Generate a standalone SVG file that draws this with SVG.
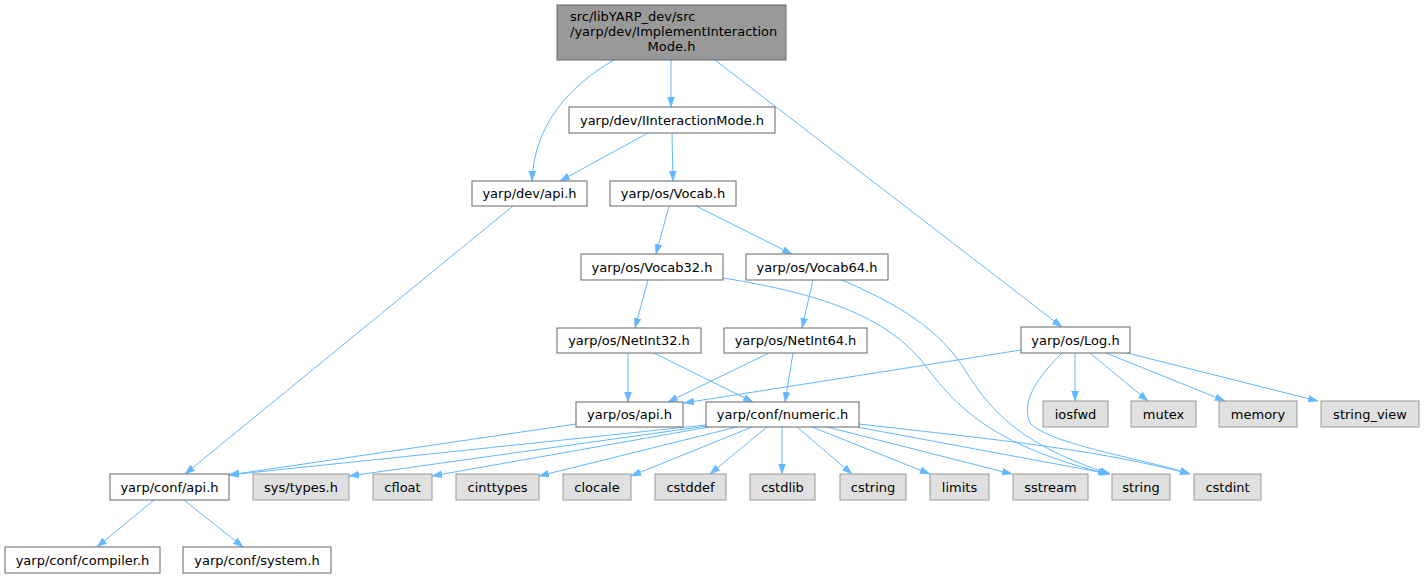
<svg xmlns="http://www.w3.org/2000/svg" width="1425" height="579" viewBox="0 0 1425 579">
<style>
.w{fill:#ffffff;stroke:#666666;stroke-width:1}
.g{fill:#e0e0e0;stroke:#999999;stroke-width:1}
.r{fill:#999999;stroke:#666666;stroke-width:1}
text{font-family:"DejaVu Sans",sans-serif;font-size:13px;fill:#000000;text-anchor:middle}
.e path{fill:none;stroke:#63b8ff;stroke-width:1;marker-end:url(#a)}
</style>
<defs>
<marker id="a" markerWidth="11" markerHeight="8" refX="10" refY="4" orient="auto" markerUnits="userSpaceOnUse">
<path d="M0,0.5 L10,4 L0,7.5 Z" fill="#63b8ff" stroke="#63b8ff" stroke-width="0.5"/>
</marker>
</defs>
<rect width="1425" height="579" fill="#ffffff"/>
<g id="edges" class="e">
<path d="M614,60 C570,85 534,125 532,181"/>
<path d="M671,60 L671,107"/>
<path d="M715,60 L1062,327"/>
<path d="M648,133 L560,181"/>
<path d="M672,133 L673,181"/>
<path d="M513,206 L185,474"/>
<path d="M669,206 L656,254"/>
<path d="M696,206 L792,254"/>
<path d="M648,280 L635,328"/>
<path d="M723,278 C830,295 890,320 925,365 C955,405 990,445 1108,474"/>
<path d="M813,280 L802,328"/>
<path d="M842,280 C900,305 940,330 965,370 C990,410 1020,445 1110,474"/>
<path d="M628,353 L628,402"/>
<path d="M654,353 L753,402"/>
<path d="M769,353 L668,402"/>
<path d="M793,353 L785,402"/>
<path d="M1021,350 L684,403"/>
<path d="M1075,353 L1075,401"/>
<path d="M1090,353 L1148,401"/>
<path d="M1106,353 L1225,401"/>
<path d="M1123,352 L1318,401"/>
<path d="M1062,353 C1040,375 1020,400 1030,423 C1050,445 1150,460 1190,474"/>
<path d="M576,424 L229,475"/>
<path d="M706,425 L229,475"/>
<path d="M707,426 L349,476"/>
<path d="M709,427 L432,476"/>
<path d="M737,427 L539,476"/>
<path d="M752,427 L631,476"/>
<path d="M767,427 L710,474"/>
<path d="M782,427 L782,474"/>
<path d="M797,427 L852,474"/>
<path d="M812,427 L930,474"/>
<path d="M827,427 L1012,474"/>
<path d="M857,427 L1110,474"/>
<path d="M859,424 C1000,440 1100,450 1190,474"/>
<path d="M154,500 L97,547"/>
<path d="M184,500 L243,547"/>
</g>
<g id="root"><rect class="r" x="557" y="5" width="229" height="55"/>
<text x="570" y="21" style="text-anchor:start">src/libYARP_dev/src</text>
<text x="570" y="36" style="text-anchor:start">/yarp/dev/ImplementInteraction</text>
<text x="671.5" y="51">Mode.h</text></g>
<g id="iim"><rect class="w" x="569" y="107" width="206" height="26"/><text x="672" y="125">yarp/dev/IInteractionMode.h</text></g>
<g id="devapi"><rect class="w" x="472" y="181" width="115" height="25"/><text x="529.5" y="198">yarp/dev/api.h</text></g>
<g id="vocab"><rect class="w" x="610" y="181" width="126" height="25"/><text x="673" y="198">yarp/os/Vocab.h</text></g>
<g id="vocab32"><rect class="w" x="581" y="254" width="142" height="26"/><text x="652" y="272">yarp/os/Vocab32.h</text></g>
<g id="vocab64"><rect class="w" x="746" y="254" width="142" height="26"/><text x="817" y="272">yarp/os/Vocab64.h</text></g>
<g id="netint32"><rect class="w" x="557" y="328" width="144" height="25"/><text x="629" y="345">yarp/os/NetInt32.h</text></g>
<g id="netint64"><rect class="w" x="724" y="328" width="143" height="25"/><text x="795.5" y="345">yarp/os/NetInt64.h</text></g>
<g id="osapi"><rect class="w" x="576" y="402" width="107" height="25"/><text x="629.5" y="419">yarp/os/api.h</text></g>
<g id="numeric"><rect class="w" x="706" y="402" width="153" height="25"/><text x="782.5" y="419">yarp/conf/numeric.h</text></g>
<g id="log"><rect class="w" x="1021" y="327" width="109" height="26"/><text x="1075.5" y="345">yarp/os/Log.h</text></g>
<g id="iosfwd"><rect class="g" x="1043" y="401" width="65" height="26"/><text x="1075.5" y="419">iosfwd</text></g>
<g id="mutex"><rect class="g" x="1131" y="401" width="65" height="26"/><text x="1163.5" y="419">mutex</text></g>
<g id="memory"><rect class="g" x="1219" y="401" width="78" height="26"/><text x="1258" y="419">memory</text></g>
<g id="string_view"><rect class="g" x="1321" y="401" width="98" height="26"/><text x="1370" y="419">string_view</text></g>
<g id="confapi"><rect class="w" x="110" y="474" width="119" height="26"/><text x="169.5" y="492">yarp/conf/api.h</text></g>
<g id="systypes"><rect class="g" x="253" y="474" width="96" height="26"/><text x="301" y="492">sys/types.h</text></g>
<g id="cfloat"><rect class="g" x="373" y="474" width="59" height="26"/><text x="402.5" y="492">cfloat</text></g>
<g id="cinttypes"><rect class="g" x="456" y="474" width="83" height="26"/><text x="497.5" y="492">cinttypes</text></g>
<g id="clocale"><rect class="g" x="563" y="474" width="68" height="26"/><text x="597" y="492">clocale</text></g>
<g id="cstddef"><rect class="g" x="655" y="474" width="71" height="26"/><text x="690.5" y="492">cstddef</text></g>
<g id="cstdlib"><rect class="g" x="750" y="474" width="65" height="26"/><text x="782.5" y="492">cstdlib</text></g>
<g id="cstring"><rect class="g" x="840" y="474" width="66" height="26"/><text x="873" y="492">cstring</text></g>
<g id="limits"><rect class="g" x="930" y="474" width="59" height="26"/><text x="959.5" y="492">limits</text></g>
<g id="sstream"><rect class="g" x="1013" y="474" width="75" height="26"/><text x="1050.5" y="492">sstream</text></g>
<g id="string"><rect class="g" x="1112" y="474" width="58" height="26"/><text x="1141" y="492">string</text></g>
<g id="cstdint"><rect class="g" x="1194" y="474" width="67" height="26"/><text x="1227.5" y="492">cstdint</text></g>
<g id="compiler"><rect class="w" x="5" y="547" width="155" height="26"/><text x="82.5" y="565">yarp/conf/compiler.h</text></g>
<g id="system"><rect class="w" x="183" y="547" width="148" height="26"/><text x="257" y="565">yarp/conf/system.h</text></g>
</svg>
